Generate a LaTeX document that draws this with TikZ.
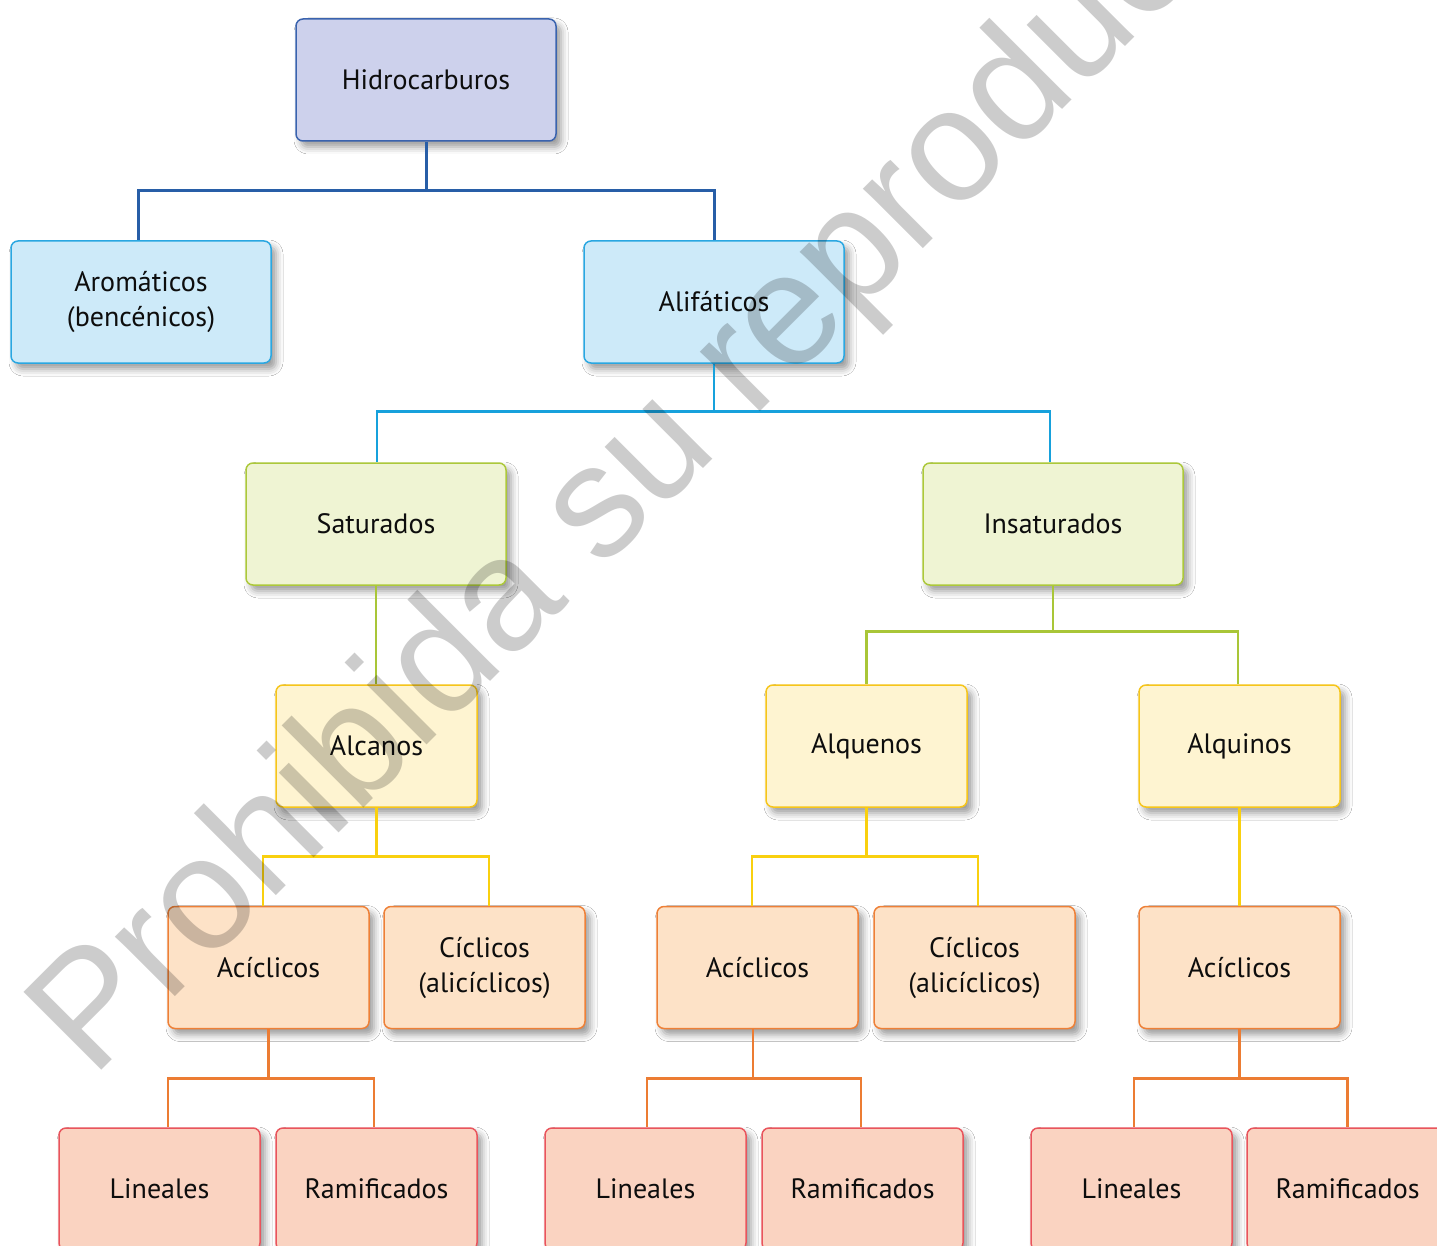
\documentclass[tikz,border=0pt]{standalone}
\usepackage{fontspec}
\setmainfont{PT Sans}
\newfontfamily\wmfont{Liberation Sans}
\usetikzlibrary{shadows.blur}
\definecolor{hidF}{HTML}{CDD1EC}\definecolor{hidD}{HTML}{3A63AE}
\definecolor{bluF}{HTML}{CDEAF9}\definecolor{bluD}{HTML}{2AA7E1}
\definecolor{grnF}{HTML}{EFF4D3}\definecolor{grnD}{HTML}{ACC83A}
\definecolor{yelF}{HTML}{FEF4D1}\definecolor{yelD}{HTML}{F6C51A}
\definecolor{pchF}{HTML}{FDE2C7}\definecolor{pchD}{HTML}{EE8037}
\definecolor{salF}{HTML}{FAD3C1}\definecolor{salD}{HTML}{E9545C}
\definecolor{cDark}{HTML}{285EA7}\definecolor{cCyan}{HTML}{17A1DC}
\definecolor{cGrn}{HTML}{A9C638}\definecolor{cYel}{HTML}{F9D00F}
\definecolor{cOrg}{HTML}{EC7C33}
\tikzset{
  box/.style={rounded corners=7pt, line width=1.5pt, align=center,
    text=black!95, font=\fontsize{28}{35}\selectfont,
    inner sep=0pt, minimum height=122pt,
    blur shadow={shadow xshift=5pt, shadow yshift=-6pt, shadow blur radius=7pt, shadow opacity=40}},
  wide/.style={box, minimum width=260pt},
  narrow/.style={box, minimum width=201pt},
  hidbox/.style={wide, fill=hidF, draw=hidD},
  blubox/.style={wide, fill=bluF, draw=bluD},
  grnbox/.style={wide, fill=grnF, draw=grnD},
  yelbox/.style={narrow, fill=yelF, draw=yelD},
  pchbox/.style={narrow, fill=pchF, draw=pchD},
  salbox/.style={narrow, fill=salF, draw=salD},
  conn/.style={line width=2.8pt},
}
\begin{document}
\begin{tikzpicture}[x=1pt,y=-1pt]
\useasboundingbox (0,0) rectangle (1437,1246);
\fill[white] (0,0) rectangle (1437,1246);
% boxes
\node[hidbox] (hidro) at (426,80) {Hidrocarburos};
\node[blubox] (arom) at (141,302) {Aromáticos\\(bencénicos)};
\node[blubox] (alif) at (714,302) {Alifáticos};
\node[grnbox] (sat) at (376,524) {Saturados};
\node[grnbox] (insat) at (1053,524) {Insaturados};
\node[yelbox] (alc) at (376.5,746) {Alcanos};
\node[yelbox] (alqe) at (866.5,746) {Alquenos};
\node[yelbox] (alqi) at (1239.5,746) {Alquinos};
\node[pchbox] (aci1) at (268.5,967.5) {Acíclicos};
\node[pchbox] (cic1) at (484.5,967.5) {Cíclicos\\(alicíclicos)};
\node[pchbox] (aci2) at (757.5,967.5) {Acíclicos};
\node[pchbox] (cic2) at (974.5,967.5) {Cíclicos\\(alicíclicos)};
\node[pchbox] (aci3) at (1239.5,967.5) {Acíclicos};
\node[salbox] (lin1) at (159.5,1189) {Lineales};
\node[salbox] (ram1) at (376.5,1189) {Ramificados};
\node[salbox] (lin2) at (645.5,1189) {Lineales};
\node[salbox] (ram2) at (862.5,1189) {Ramificados};
\node[salbox] (lin3) at (1131.5,1189) {Lineales};
\node[salbox] (ram3) at (1347.5,1189) {Ramificados};
% connectors
\draw[conn, draw=cDark, line width=3pt] (hidro.south) -- ++(0,49) coordinate (j1) -| ([xshift=-3pt]arom.north);
\draw[conn, draw=cDark, line width=3pt] (j1) -| (alif.north);
\draw[conn, draw=cCyan] (alif.south) -- ++(0,48) coordinate (j2) -| ([xshift=1pt]sat.north);
\draw[conn, draw=cCyan] (j2) -| ([xshift=-3pt]insat.north);
\draw[conn, draw=cGrn] (sat.south) -- (sat.south |- alc.north);
\draw[conn, draw=cGrn] (insat.south) -- ++(0,46) coordinate (j3) -| (alqe.north);
\draw[conn, draw=cGrn] (j3) -| ([xshift=-1.5pt]alqi.north);
\draw[conn, draw=cYel] (alc.south) -- ++(0,49) coordinate (j4) -| ([xshift=-5.5pt]aci1.north);
\draw[conn, draw=cYel] (j4) -| ([xshift=4.5pt]cic1.north);
\draw[conn, draw=cYel] (alqe.south) -- ++(0,49) coordinate (j5) -| ([xshift=-5.5pt]aci2.north);
\draw[conn, draw=cYel] (j5) -| ([xshift=3.5pt]cic2.north);
\draw[conn, draw=cYel] (alqi.south) -- (aci3.north);
\draw[conn, draw=cOrg] (aci1.south) -- ++(0,49) coordinate (j6) -| ([xshift=8.5pt]lin1.north);
\draw[conn, draw=cOrg] (j6) -| ([xshift=-2.5pt]ram1.north);
\draw[conn, draw=cOrg] ([xshift=-4.5pt]aci2.south) -- ++(0,49) coordinate (j7) -| ([xshift=1.5pt]lin2.north);
\draw[conn, draw=cOrg] (j7) -| ([xshift=-1.5pt]ram2.north);
\draw[conn, draw=cOrg] (aci3.south) -- ++(0,49) coordinate (j8) -| ([xshift=2.5pt]lin3.north);
\draw[conn, draw=cOrg] (j8) -| (ram3.north);
% watermark
\node[anchor=base west, rotate=45, inner sep=0pt, text=black, text opacity=0.2,
  font=\wmfont\fontsize{160}{160}\selectfont] (wm) at (92,1080) {Prohibida su reproducción};
\end{tikzpicture}
\end{document}
